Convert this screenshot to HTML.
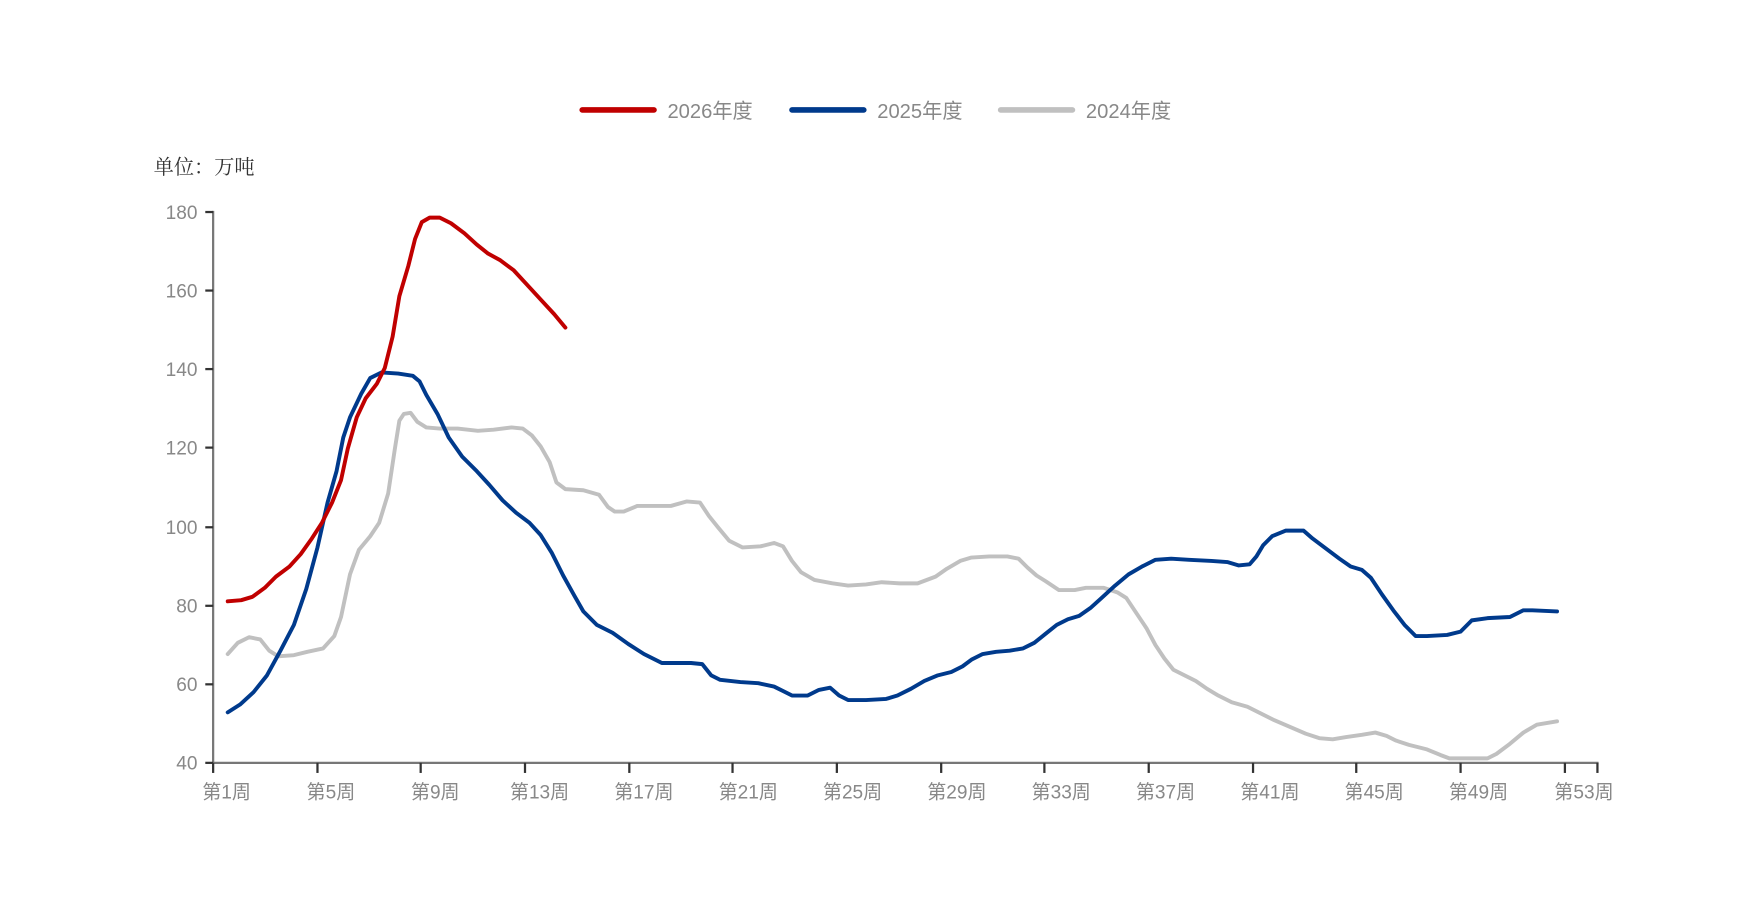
<!DOCTYPE html>
<html><head><meta charset="utf-8"><style>
html,body{margin:0;padding:0;background:#fff;}
svg{display:block;}
text{font-family:"Liberation Sans","Noto Sans CJK SC",sans-serif;fill:#888;}
</style></head><body>
<svg width="1750" height="918" viewBox="0 0 1560 818.3" preserveAspectRatio="none" xmlns="http://www.w3.org/2000/svg">
<rect width="1560" height="818.3" fill="#fff"/>
<!-- legend -->
<line x1="519" y1="98" x2="583" y2="98" stroke="#C00000" stroke-width="5" stroke-linecap="round"/>
<text x="595" y="105" font-size="18">2026年度</text>
<line x1="706" y1="98" x2="770" y2="98" stroke="#003A8C" stroke-width="5" stroke-linecap="round"/>
<text x="782" y="105" font-size="18">2025年度</text>
<line x1="892" y1="98" x2="956" y2="98" stroke="#C0C0C0" stroke-width="5" stroke-linecap="round"/>
<text x="968" y="105" font-size="18">2024年度</text>
<text x="137" y="155" font-size="18" style="fill:#333;font-family:'Noto Serif CJK SC','Liberation Serif',serif">单位：万吨</text>
<!-- axes -->
<g stroke="#777" stroke-width="2" fill="none">
<line x1="190" y1="188" x2="190" y2="680"/>
<line x1="190" y1="680" x2="1425" y2="680"/>
</g>
<g stroke="#333" stroke-width="2">
<line x1="183" y1="189" x2="190" y2="189"/>
<line x1="183" y1="259" x2="190" y2="259"/>
<line x1="183" y1="329" x2="190" y2="329"/>
<line x1="183" y1="399" x2="190" y2="399"/>
<line x1="183" y1="470" x2="190" y2="470"/>
<line x1="183" y1="540" x2="190" y2="540"/>
<line x1="183" y1="610" x2="190" y2="610"/>
<line x1="183" y1="680" x2="190" y2="680"/>
<line x1="190" y1="680" x2="190" y2="689"/>
<line x1="283" y1="680" x2="283" y2="689"/>
<line x1="375" y1="680" x2="375" y2="689"/>
<line x1="468" y1="680" x2="468" y2="689"/>
<line x1="561" y1="680" x2="561" y2="689"/>
<line x1="653" y1="680" x2="653" y2="689"/>
<line x1="746" y1="680" x2="746" y2="689"/>
<line x1="839" y1="680" x2="839" y2="689"/>
<line x1="931" y1="680" x2="931" y2="689"/>
<line x1="1024" y1="680" x2="1024" y2="689"/>
<line x1="1117" y1="680" x2="1117" y2="689"/>
<line x1="1209" y1="680" x2="1209" y2="689"/>
<line x1="1302" y1="680" x2="1302" y2="689"/>
<line x1="1395" y1="680" x2="1395" y2="689"/>
<line x1="1424" y1="680" x2="1424" y2="689"/>
</g>
<g font-size="17" text-anchor="end">
<text x="176" y="195">180</text><text x="176" y="265">160</text><text x="176" y="335">140</text>
<text x="176" y="405">120</text><text x="176" y="476">100</text><text x="176" y="546">80</text>
<text x="176" y="616">60</text><text x="176" y="686">40</text>
</g>
<g font-size="17" text-anchor="middle">
<text x="202" y="712">第1周</text><text x="295" y="712">第5周</text><text x="388" y="712">第9周</text>
<text x="481" y="712">第13周</text><text x="574" y="712">第17周</text><text x="667" y="712">第21周</text>
<text x="760" y="712">第25周</text><text x="853" y="712">第29周</text><text x="946" y="712">第33周</text>
<text x="1039" y="712">第37周</text><text x="1132" y="712">第41周</text><text x="1225" y="712">第45周</text>
<text x="1318" y="712">第49周</text><text x="1412" y="712">第53周</text>
</g>
<g fill="none" stroke-width="3.5" stroke-linejoin="round" stroke-linecap="round">
<polyline stroke="#C0C0C0" points="203,583 212,573 222,568 232,570 240,580 248,585 262,584 274,581 288,578 298,567 304,550 312,512 320,490 330,478 338,466 346,440 352,400 356,375 360,369 366,368 372,376 380,381 392,382 408,382 426,384 440,383 456,381 466,382 474,388 482,398 490,412 496,430 504,436 520,437 534,441 542,452 548,456 556,456 568,451 580,451 598,451 612,447 624,448 632,460 640,470 650,482 662,488 678,487 690,484 698,487 706,500 714,510 726,517 742,520 756,522 772,521 786,519 802,520 818,520 834,514 844,507 856,500 866,497 882,496 898,496 908,498 916,506 924,513 932,518 944,526 958,526 968,524 984,524 996,528 1004,533 1012,545 1022,560 1030,575 1038,587 1046,597 1056,602 1066,607 1076,614 1086,620 1098,626 1112,630 1124,636 1136,642 1150,648 1164,654 1176,658 1188,659 1200,657 1214,655 1226,653 1236,656 1244,660 1256,664 1272,668 1284,673 1292,676 1312,676 1326,676 1334,672 1346,663 1358,653 1370,646 1388,643"/>
<polyline stroke="#003A8C" points="203,635 214,628 226,617 238,602 250,580 262,557 273,525 283,488 292,448 300,420 306,390 312,372 322,351 330,337 340,332 355,333 368,335 374,340 380,352 390,369 400,390 412,407 425,420 436,432 448,446 460,457 472,466 482,477 492,493 502,513 512,531 520,545 532,557 546,564 560,574 574,583 590,591 600,591 616,591 626,592 634,602 642,606 660,608 676,609 690,612 698,616 706,620 720,620 730,615 740,613 748,620 756,624 772,624 790,623 800,620 812,614 824,607 836,602 848,599 858,594 866,588 876,583 888,581 900,580 912,578 922,573 932,565 942,557 952,552 962,549 972,542 982,533 994,522 1006,512 1018,505 1030,499 1044,498 1060,499 1080,500 1094,501 1104,504 1114,503 1120,496 1126,486 1134,478 1146,473 1162,473 1170,480 1182,489 1194,498 1204,505 1214,508 1222,515 1232,530 1242,544 1252,557 1262,567 1272,567 1290,566 1302,563 1312,553 1326,551 1346,550 1358,544 1366,544 1388,545"/>
<polyline stroke="#C00000" points="203,536 215,535 225,532 236,524 246,514 258,505 268,494 278,480 287,466 296,448 304,428 310,400 318,372 326,355 336,342 343,328 350,300 356,264 364,237 370,213 376,198 383,194 392,194 402,199 414,208 425,218 435,226 446,232 458,241 470,254 482,267 494,280 504,292"/>
</g>
</svg>
</body></html>
